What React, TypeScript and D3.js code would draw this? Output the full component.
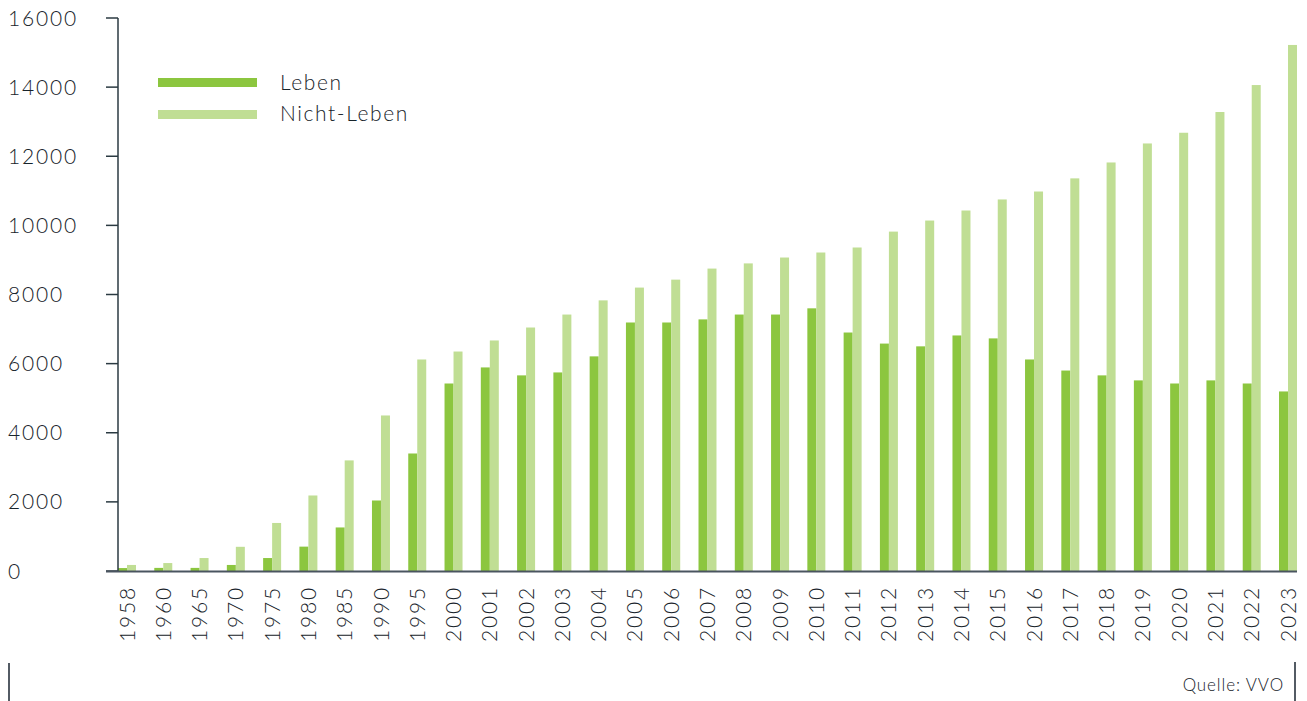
import React from "react";
import * as d3 from "d3";

const years = ["1958","1960","1965","1970","1975","1980","1985","1990","1995","2000","2001","2002","2003","2004","2005","2006","2007","2008","2009","2010","2011","2012","2013","2014","2015","2016","2017","2018","2019","2020","2021","2022","2023"];
const leben = [85,90,90,175,375,705,1260,2040,3400,5425,5890,5660,5745,6210,7190,7190,7280,7420,7420,7600,6900,6580,6500,6815,6730,6120,5800,5660,5515,5425,5515,5425,5195];
const nichtLeben = [175,230,375,700,1390,2185,3200,4500,6120,6350,6670,7045,7420,7830,8200,8430,8750,8900,9070,9215,9360,9820,10140,10430,10750,10980,11360,11820,12370,12680,13280,14060,15220];
const yTicks = [0,2000,4000,6000,8000,10000,12000,14000,16000];
const seriesNames = ["Leben","Nicht-Leben"];
const source = "Quelle: VVO";

const W = 1307, H = 701;
const C_DARK = "#8cc63f";
const C_LIGHT = "#c0de94";
const TEXT = "#17232a";
const FONT = "Lato, 'Open Sans', sans-serif";

export default function App() {
  const y = d3.scaleLinear().domain([0, 16000]).range([571, 18]);
  const x = d3.scaleBand<string>().domain(years).range([118, 1297]).paddingInner(0.504).paddingOuter(0);
  const sub = d3.scaleBand<number>().domain([0, 1]).range([0, x.bandwidth()]);
  const series = [leben, nichtLeben];
  const colors = [C_DARK, C_LIGHT];

  return (
    <svg width={W} height={H} style={{ position: "absolute", left: 0, top: 0 }} fontFamily={FONT} fontWeight={300}>
      {years.map((yr, i) => (
        <g key={yr} transform={`translate(${x(yr)},0)`}>
          {series.map((s, k) => (
            <rect key={k} x={sub(k)} width={sub.bandwidth()} y={y(s[i])} height={y(0) - y(s[i])} fill={colors[k]} />
          ))}
        </g>
      ))}
      <line x1={118} x2={118} y1={18} y2={571} stroke="#2b3a42" strokeWidth={1.5} />
      {yTicks.map((t) => (
        <g key={t}>
          <line x1={106} x2={118} y1={y(t)} y2={y(t)} stroke="#2b3a42" strokeWidth={1.5} />
          <text x={8} y={y(t)} dy="0.36em" fontSize={21} fill={TEXT} letterSpacing={1.8}>{t}</text>
        </g>
      ))}
      <line x1={106} x2={1297} y1={571.5} y2={571.5} stroke="#4a5560" strokeWidth={2} />
      {years.map((yr) => (
        <text key={yr} transform={`translate(${(x(yr) as number) + x.bandwidth() / 2},586) rotate(-90)`}
          textAnchor="end" dy="0.36em" fontSize={21} fill={TEXT} letterSpacing={1.8}>{yr}</text>
      ))}
      {seriesNames.map((n, k) => (
        <g key={n}>
          <rect x={158} y={78 + k * 32} width={99} height={9} fill={colors[k]} />
          <text x={280} y={82.5 + k * 31} dy="0.36em" fontSize={21} fill={TEXT} letterSpacing={1.6}>{n}</text>
        </g>
      ))}
      <line x1={9} x2={9} y1={663} y2={701} stroke="#1a2530" strokeWidth={1.5} />
      <line x1={1295} x2={1295} y1={662} y2={701} stroke="#1a2530" strokeWidth={1.5} />
      <text x={1284} y={691} textAnchor="end" fontSize={17} fill={TEXT} letterSpacing={0.9}>{source}</text>
    </svg>
  );
}
